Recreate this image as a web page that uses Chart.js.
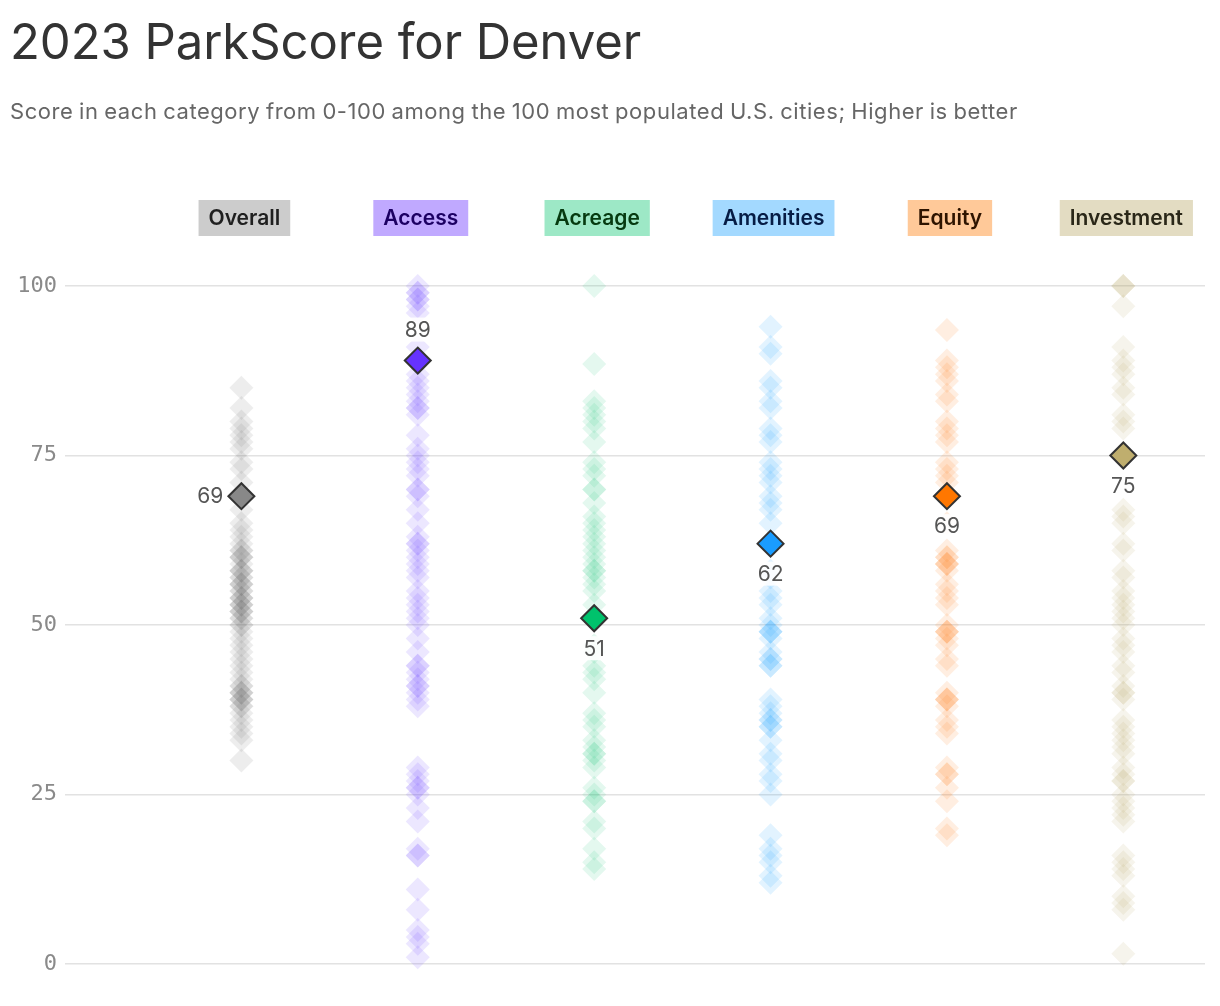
<!DOCTYPE html>
<html>
<head>
<meta charset="utf-8">
<script src="https://cdn.jsdelivr.net/npm/chart.js@4/dist/chart.umd.min.js"></script>
<style>
  body { margin: 0; background: #fff; overflow: hidden; }
  #wrap { position: absolute; left: 0; top: 0; width: 1220px; height: 1006px; }
  h1 { position: absolute; left: 10px; top: 12px; margin: 0; font: 400 49px Inter, sans-serif; color: #333; letter-spacing: -0.05px; z-index: 2; }
  p.sub { position: absolute; left: 10px; top: 98px; margin: 0; font: 400 22px Inter, sans-serif; color: #666; letter-spacing: 0.55px; word-spacing: -1px; z-index: 2; }
</style>
</head>
<body>
<div id="wrap"><canvas id="chart"></canvas></div>
<h1>2023 ParkScore for Denver</h1>
<p class="sub">Score in each category from 0-100 among the 100 most populated U.S. cities; Higher is better</p>
<script>
const categories = ['Overall', 'Access', 'Acreage', 'Amenities', 'Equity', 'Investment'];
const denverScores = [69, 89, 51, 62, 69, 75];
const yTicks = [0, 25, 50, 75, 100];

// other cities
const overallScores = [85, 82, 80, 79, 78, 77, 76, 74, 73, 71, 67, 65, 64, 63, 62, 61, 61, 60, 60, 60, 59, 58, 58, 58, 57, 57, 56, 56, 56, 55, 55, 54, 54, 54, 53, 53, 53, 52, 52, 52, 51, 51, 50, 50, 49, 48, 47, 46, 45, 44, 43, 42, 41, 41, 40, 40, 40, 39, 39, 39, 38, 38, 37, 36, 35, 34, 33, 30];
const accessScores = [100, 99, 99, 98, 98, 97, 96, 91, 87, 86, 85, 84, 83, 82, 82, 81, 78, 76, 75, 74, 73, 72, 70, 70, 69, 67, 65, 63, 62, 62, 61, 60, 59, 58, 57, 55, 54, 53, 52, 51, 50, 48, 46, 44, 44, 43, 42, 41, 41, 40, 39, 38, 29, 28, 27, 26, 26, 25, 23, 21, 17, 16, 16, 11, 8, 5, 4, 3, 1];
const acreageScores = [100, 88.5, 83, 82, 81, 80, 79, 77, 74, 73, 72, 70, 70, 68, 66, 65, 64, 63, 62, 61, 60, 59, 58, 58, 57, 56, 55, 53, 47, 46, 44, 43, 42, 40, 37, 36, 35, 33, 32, 31, 31, 30, 29, 26, 25, 24, 24, 21, 20, 17, 15, 14];
const amenitiesScores = [94, 91, 90, 86, 85, 83, 82, 79, 78, 77, 74, 73, 72, 71, 69, 68, 67, 65, 58, 57, 55, 54, 53, 51, 50, 49, 49, 49, 48, 46, 45, 45, 44, 44, 39, 38, 37, 36, 36, 35, 35, 33, 31, 30, 28, 27, 25, 19, 17, 16, 15, 13, 12];
const equityScores = [93.5, 89, 88, 87, 86, 84, 83, 80, 79, 78, 77, 74, 73, 72, 71, 65, 61, 60, 60, 59, 59, 59, 58, 56, 55, 54, 53, 50, 49, 49, 49, 48, 47, 45, 44, 40, 39, 39, 39, 38, 36, 35, 34, 29, 28, 28, 26, 24, 20, 19];
const investmentScores = [100, 100, 100, 97, 91, 89, 88, 87, 85, 84, 81, 80, 79, 67, 66, 65, 62, 61, 58, 57, 55, 54, 53, 52, 51, 50, 48, 47, 46, 44, 43, 41, 40, 40, 39, 36, 35, 34, 33, 32, 31, 29, 28, 27, 27, 25, 24, 23, 22, 21, 16, 15, 14, 13, 10, 9, 8, 1.5];

const allScores = [overallScores, accessScores, acreageScores, amenitiesScores, equityScores, investmentScores];

const faintColors = ['rgba(110,110,110,0.12)', 'rgba(110,70,255,0.13)', 'rgba(30,200,122,0.12)', 'rgba(30,160,255,0.13)', 'rgba(255,122,26,0.13)', 'rgba(180,162,100,0.12)'];
const mainColors = ['#888888', '#6633ff', '#00c26c', '#1a9cff', '#ff7700', '#bfae6e'];
const boxColors = ['#cccccc', '#c0a9ff', '#9de8c6', '#a3d9ff', '#ffc999', '#e3dcc2'];
const boxText = ['#1f1f1f', '#1c0063', '#063a10', '#061c45', '#2e1400', '#2a2718'];
const labelSide = ['left', 'above', 'below', 'below', 'below', 'below'];

const datasets = [{
    label: 'Denver',
    data: denverScores.map((v, i) => ({ x: i, y: v })),
    pointStyle: 'rectRot',
    pointRadius: 13,
    backgroundColor: mainColors,
    borderColor: '#333',
    borderWidth: 2,
    order: 0,
    clip: false
}];
allScores.forEach((arr, i) => {
    datasets.push({
        label: categories[i],
        data: arr.map(v => ({ x: i, y: v })),
        pointStyle: 'rectRot',
        pointRadius: 12,
        backgroundColor: faintColors[i],
        borderWidth: 0,
        order: 1,
        clip: false
    });
});

const headerAndLabels = {
    id: 'headerAndLabels',
    afterDatasetsDraw(chart) {
        const ctx = chart.ctx;
        const xs = chart.scales.x;
        ctx.save();
        // category headers
        ctx.font = '600 21px Inter, sans-serif';
        ctx.textAlign = 'center';
        ctx.textBaseline = 'middle';
        categories.forEach((c, i) => {
            const cx = xs.getPixelForValue(i) + 3;
            const w = ctx.measureText(c).width + 20;
            ctx.fillStyle = boxColors[i];
            ctx.fillRect(cx - w / 2, 200, w, 36);
            ctx.fillStyle = boxText[i];
            ctx.fillText(c, cx, 219);
        });
        // Denver value labels
        const meta = chart.getDatasetMeta(0);
        ctx.font = '400 21px Inter, sans-serif';
        meta.data.forEach((pt, i) => {
            const txt = String(denverScores[i]);
            const w = ctx.measureText(txt).width;
            let tx = pt.x, ty = pt.y;
            if (labelSide[i] === 'left') { tx = pt.x - 18 - w / 2; }
            else if (labelSide[i] === 'above') { ty = pt.y - 31; }
            else { ty = pt.y + 30; }
            ctx.fillStyle = 'rgba(255,255,255,0.9)';
            ctx.fillRect(tx - w / 2 - 3, ty - 12, w + 6, 24);
            ctx.fillStyle = '#555';
            ctx.fillText(txt, tx, ty + 1);
        });
        ctx.restore();
    }
};

new Chart(document.getElementById('chart'), {
    type: 'scatter',
    data: { datasets: datasets },
    options: {
        responsive: true,
        maintainAspectRatio: false,
        animation: false,
        events: [],
        layout: { padding: { top: 286, right: 4, bottom: 42, left: 0 } },
        scales: {
            x: {
                type: 'linear',
                min: -1,
                max: 5.463,
                display: false
            },
            y: {
                min: 0,
                max: 100,
                afterBuildTicks: axis => { axis.ticks = yTicks.map(v => ({ value: v })); },
                afterFit: axis => { axis.width = 65; },
                border: { display: false },
                grid: { color: '#e2e2e2', lineWidth: 1.5, drawTicks: false },
                ticks: {
                    padding: 8,
                    color: '#8a8a8a',
                    font: { family: 'DejaVu Sans Mono', size: 22 }
                }
            }
        },
        plugins: {
            legend: { display: false },
            tooltip: { enabled: false }
        }
    },
    plugins: [headerAndLabels]
});
</script>
</body>
</html>
